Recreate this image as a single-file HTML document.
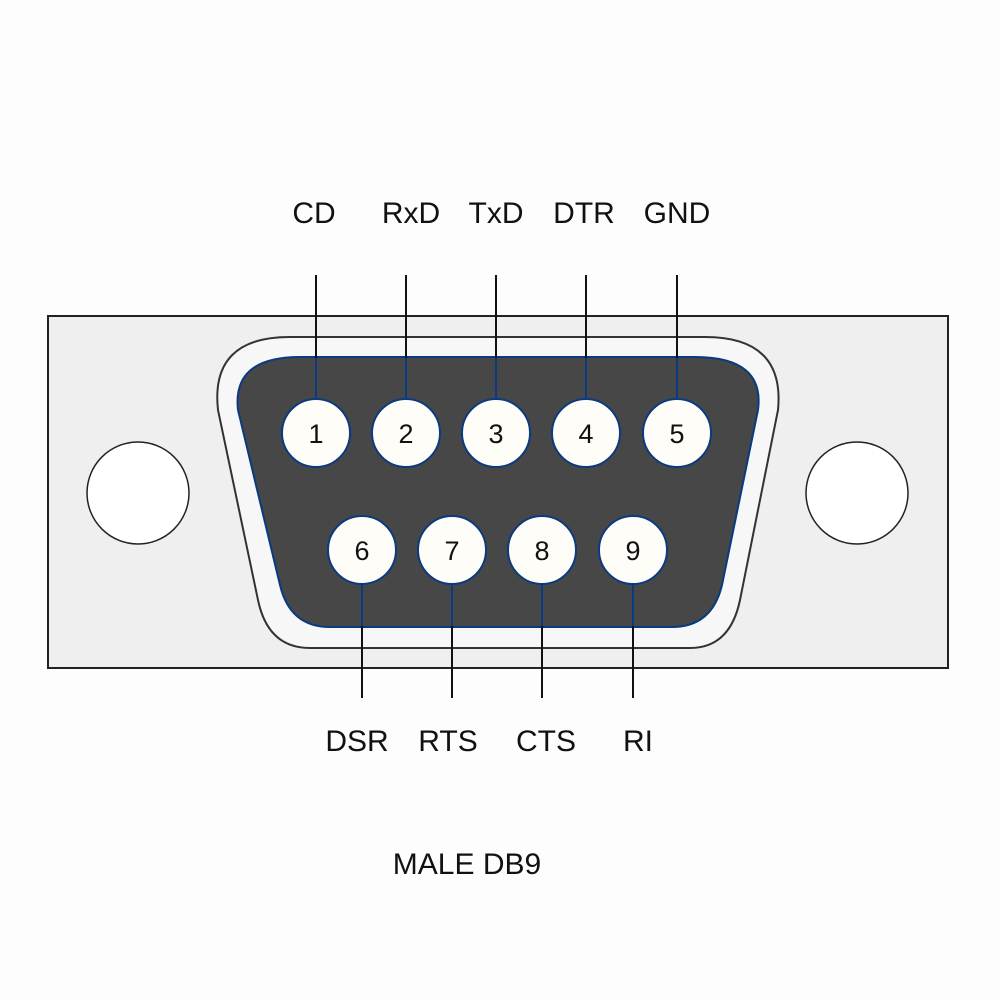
<!DOCTYPE html>
<html><head><style>
html,body{margin:0;padding:0;background:#fff;}
svg{display:block;}
text{font-family:"Liberation Sans",Arial,sans-serif;fill:#111;}
</style></head><body>
<svg width="1000" height="1000" viewBox="0 0 1000 1000">
<rect width="1000" height="1000" fill="#fdfdfd"/>
<rect x="48" y="316" width="900" height="352" fill="#efefef" stroke="#222" stroke-width="2"/>
<path d="M 290,337 L 705,337 Q 785,337 778,410 L 740,600 Q 730,648 690,648 L 310,648 Q 268,648 258,600 L 218,410 Q 210,337 290,337 Z" fill="#f7f7f7" stroke="#333" stroke-width="2"/>
<path d="M 300,357 L 695,357 Q 765,357 758,410 L 722,585 Q 712,627 672,627 L 330,627 Q 290,627 280,585 L 238,410 Q 232,357 300,357 Z" fill="#474747" stroke="#0a3a80" stroke-width="2"/>
<circle cx="138" cy="493" r="51" fill="#fff" stroke="#222" stroke-width="1.5"/>
<circle cx="857" cy="493" r="51" fill="#fff" stroke="#222" stroke-width="1.5"/>
<g stroke="#111" stroke-width="2">
<line x1="316" y1="275" x2="316" y2="400"/><line x1="406" y1="275" x2="406" y2="400"/>
<line x1="496" y1="275" x2="496" y2="400"/><line x1="586" y1="275" x2="586" y2="400"/>
<line x1="677" y1="275" x2="677" y2="400"/>
<line x1="362" y1="580" x2="362" y2="698"/><line x1="452" y1="580" x2="452" y2="698"/>
<line x1="542" y1="580" x2="542" y2="698"/><line x1="633" y1="580" x2="633" y2="698"/>
</g>
<g stroke="#0a3a80" stroke-width="2">
<line x1="316" y1="358" x2="316" y2="400"/><line x1="406" y1="358" x2="406" y2="400"/>
<line x1="496" y1="358" x2="496" y2="400"/><line x1="586" y1="358" x2="586" y2="400"/>
<line x1="677" y1="358" x2="677" y2="400"/>
<line x1="362" y1="580" x2="362" y2="626"/><line x1="452" y1="580" x2="452" y2="626"/>
<line x1="542" y1="580" x2="542" y2="626"/><line x1="633" y1="580" x2="633" y2="626"/>
</g>
<g fill="#fffdf8" stroke="#0a3a80" stroke-width="2">
<circle cx="316" cy="433" r="34"/><circle cx="406" cy="433" r="34"/><circle cx="496" cy="433" r="34"/>
<circle cx="586" cy="433" r="34"/><circle cx="677" cy="433" r="34"/>
<circle cx="362" cy="550" r="34"/><circle cx="452" cy="550" r="34"/><circle cx="542" cy="550" r="34"/><circle cx="633" cy="550" r="34"/>
</g>
<g font-size="27" text-anchor="middle" style="fill:#333">
<text x="316" y="443">1</text><text x="406" y="443">2</text><text x="496" y="443">3</text><text x="586" y="443">4</text><text x="677" y="443">5</text>
<text x="362" y="560">6</text><text x="452" y="560">7</text><text x="542" y="560">8</text><text x="633" y="560">9</text>
</g>
<g font-size="30" text-anchor="middle">
<text x="314" y="223">CD</text><text x="411" y="223">RxD</text><text x="496" y="223">TxD</text><text x="584" y="223">DTR</text><text x="677" y="223">GND</text>
<text x="357" y="751">DSR</text><text x="448" y="751">RTS</text><text x="546" y="751">CTS</text><text x="638" y="751">RI</text>
<text x="467" y="874">MALE DB9</text>
</g>
</svg>
</body></html>
